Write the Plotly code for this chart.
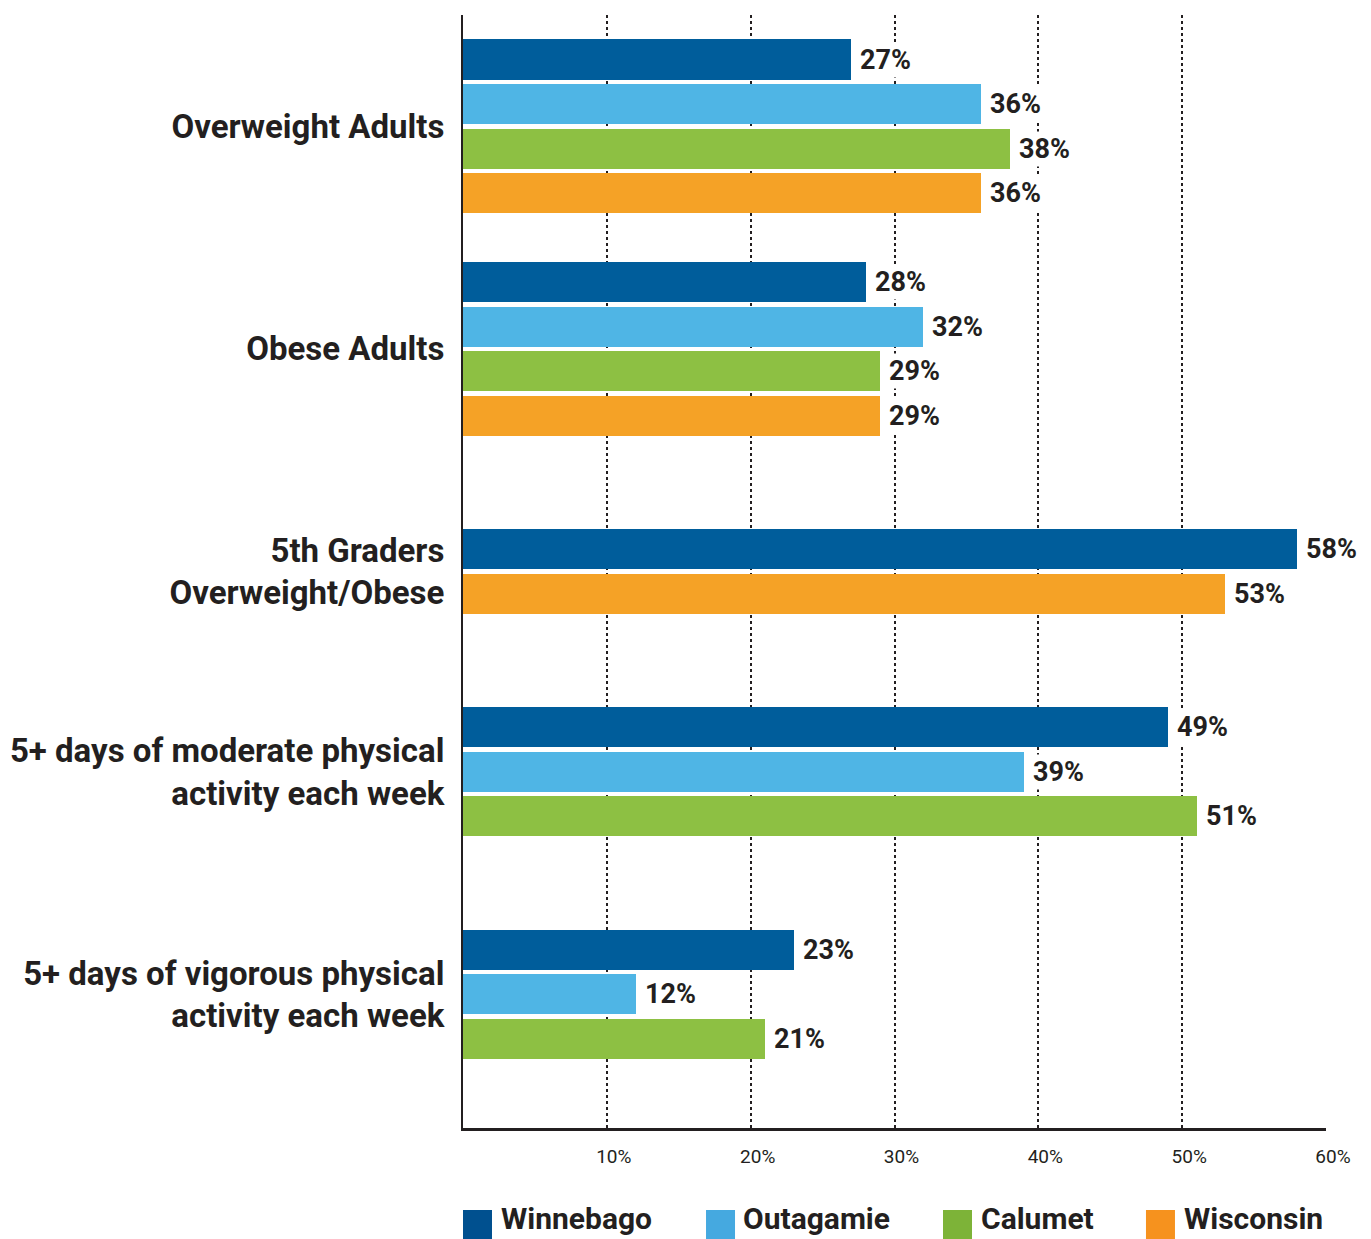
import plotly.graph_objects as go

categories = [
    "Overweight Adults",
    "Obese Adults",
    "5th Graders<br>Overweight/Obese",
    "5+ days of moderate physical<br>activity each week",
    "5+ days of vigorous physical<br>activity each week",
]
series_names = ["Winnebago", "Outagamie", "Calumet", "Wisconsin"]
winnebago = [27, 28, 58, 49, 23]
outagamie = [36, 32, None, 39, 12]
calumet = [38, 29, None, 51, 21]
wisconsin = [36, 29, 53, None, None]
x_ticks = [10, 20, 30, 40, 50, 60]
x_tick_labels = ["10%", "20%", "30%", "40%", "50%", "60%"]

bar_colors = ["#005d9b", "#4fb5e5", "#8dc043", "#f5a226"]
legend_colors = ["#00508f", "#45a9e0", "#7db338", "#f6921e"]
TEXT = "#231f20"
FONT = "Roboto, sans-serif"

all_series = [winnebago, outagamie, calumet, wisconsin]
GROUP = 5  # slots per category (4 bars + gap)

# compact slot positions for the bars present in each category
positions = [[None] * len(categories) for _ in all_series]
centers = []
for k in range(len(categories)):
    present = [s for s in range(len(all_series)) if all_series[s][k] is not None]
    off = (4 - len(present)) // 2
    slots = []
    for i, s in enumerate(present):
        positions[s][k] = GROUP * k + off + i
        slots.append(GROUP * k + off + i)
    centers.append(sum(slots) / len(slots))

fig = go.Figure()
annotations = []
for s, name in enumerate(series_names):
    xs, ys = [], []
    for k in range(len(categories)):
        v = all_series[s][k]
        if v is None:
            continue
        xs.append(v)
        ys.append(positions[s][k])
        annotations.append(dict(
            x=v, y=positions[s][k], xref="x", yref="y", text=f"<b>{v}%</b>",
            showarrow=False, xanchor="left", yanchor="middle", xshift=7,
            bgcolor="white", borderpad=1,
            font=dict(family=FONT, size=27, color=TEXT),
        ))
    fig.add_trace(go.Bar(
        x=xs, y=ys, orientation="h", width=0.9, name=name,
        marker=dict(color=bar_colors[s], line=dict(width=0)),
        showlegend=False, hoverinfo="x+name",
    ))

# custom legend (big squares) below the plot
legend_sq_x = [0.0, 0.2816, 0.5562, 0.7914]
legend_tx_x = [0.0420, 0.3225, 0.5980, 0.8333]
shapes = []
for i, name in enumerate(series_names):
    x0 = legend_sq_x[i]
    shapes.append(dict(type="rect", xref="paper", yref="paper",
                       x0=x0, x1=x0 + 0.0336, y0=-0.106, y1=-0.0737,
                       fillcolor=legend_colors[i], line=dict(width=0)))
    annotations.append(dict(
        x=legend_tx_x[i], y=-0.0815, xref="paper", yref="paper",
        text=f"<b>{name}</b>", showarrow=False, xanchor="left", yanchor="middle",
        font=dict(family=FONT, size=30, color=TEXT),
    ))

fig.update_layout(
    width=1363, height=1231,
    margin=dict(l=455, r=45, t=7, b=111),
    paper_bgcolor="white", plot_bgcolor="white",
    barmode="overlay", bargap=0,
    annotations=annotations, shapes=shapes,
    xaxis=dict(
        range=[0, 60], tickvals=x_ticks, ticktext=x_tick_labels,
        showgrid=True, gridcolor="#231f20", griddash="dot", gridwidth=2,
        showline=True, linecolor=TEXT, linewidth=3, zeroline=False,
        ticks="", ticklabelshift=7, ticklabelstandoff=9,
        tickfont=dict(family=FONT, size=19, color=TEXT),
        automargin=False, fixedrange=True,
    ),
    yaxis=dict(
        range=[24, -1], tickvals=centers,
        ticktext=[f"<b>{c}</b>" for c in categories],
        showgrid=False, zeroline=False,
        showline=True, linecolor=TEXT, linewidth=2,
        ticks="", ticklabelstandoff=10,
        tickfont=dict(family=FONT, size=33, color=TEXT),
        automargin=False, fixedrange=True,
    ),
)

fig.write_html("out.html")
